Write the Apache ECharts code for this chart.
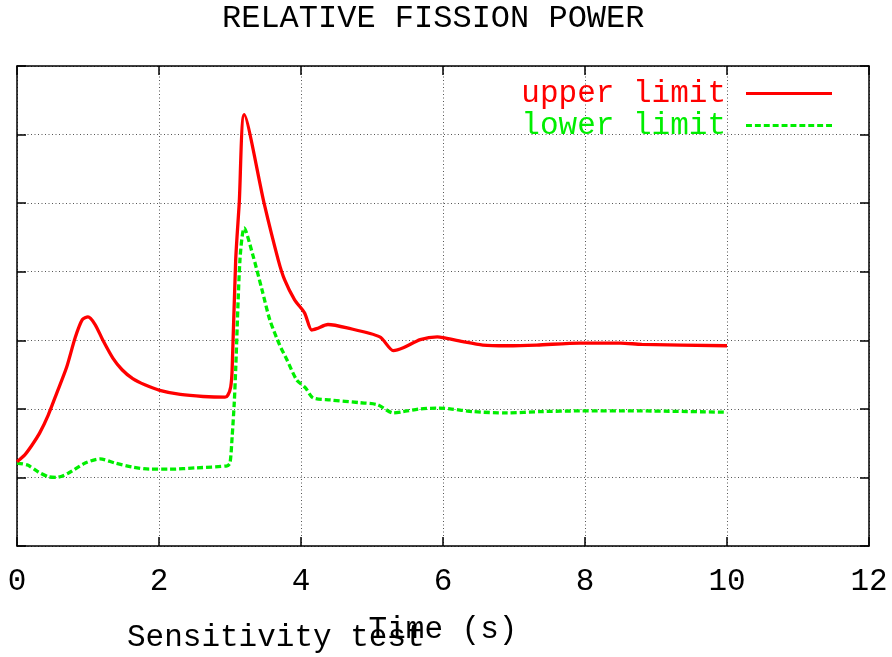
<!DOCTYPE html>
<html>
<head>
<meta charset="utf-8">
<script src="https://cdn.jsdelivr.net/npm/echarts@6/dist/echarts.min.js"></script>
<style>
html,body{margin:0;padding:0;background:#fff;}
#c{width:892px;height:657px;}
</style>
</head>
<body>
<div id="c"></div>
<script>
// ---- data ----
var upperT = [0, 0.11, 0.21, 0.32, 0.44, 0.56, 0.70, 0.82, 0.92, 1.00, 1.10, 1.21, 1.35, 1.48, 1.63, 1.80, 2.01, 2.30, 2.62, 2.93, 2.97, 3.01, 3.03, 3.08, 3.13, 3.20, 3.48, 3.68, 3.77, 3.91, 4.05, 4.15, 4.22, 4.38, 4.65, 5.11, 5.30, 5.44, 5.68, 5.92, 6.00, 6.28, 6.56, 6.90, 7.32, 7.93, 8.50, 8.80, 10.00];
var upperV = [1.23, 1.33, 1.47, 1.65, 1.91, 2.23, 2.61, 3.04, 3.30, 3.34, 3.23, 3.00, 2.74, 2.57, 2.44, 2.35, 2.27, 2.21, 2.18, 2.17, 2.20, 2.32, 2.57, 4.17, 5.00, 6.29, 5.00, 4.17, 3.88, 3.59, 3.40, 3.15, 3.17, 3.23, 3.18, 3.05, 2.85, 2.89, 3.01, 3.05, 3.04, 2.98, 2.93, 2.92, 2.93, 2.96, 2.96, 2.94, 2.92];
var lowerT = [0, 0.15, 0.30, 0.44, 0.56, 0.72, 0.96, 1.17, 1.38, 1.63, 1.87, 2.15, 2.53, 2.96, 3.00, 3.03, 3.06, 3.08, 3.14, 3.20, 3.32, 3.45, 3.56, 3.70, 3.80, 3.94, 4.06, 4.17, 4.41, 4.83, 5.08, 5.30, 5.44, 5.68, 5.92, 6.10, 6.42, 6.90, 7.37, 7.93, 8.77, 10.00];
var lowerV = [1.21, 1.18, 1.08, 1.01, 1.00, 1.06, 1.21, 1.27, 1.21, 1.15, 1.12, 1.12, 1.14, 1.17, 1.21, 1.59, 2.09, 2.57, 4.17, 4.64, 4.25, 3.74, 3.30, 2.93, 2.72, 2.42, 2.31, 2.16, 2.13, 2.09, 2.06, 1.94, 1.96, 2.00, 2.01, 2.00, 1.96, 1.94, 1.96, 1.97, 1.97, 1.95];
var xTicks = {min: 0, max: 12, step: 2};
var yTicks = {min: 0, max: 7, step: 1};
var seriesNames = ['upper limit', 'lower limit'];
var titleText = 'RELATIVE FISSION POWER';
var xName = 'Time (s)';
var noteText = 'Sensitivity test';

function pairs(t, v) { return t.map(function (x, i) { return [x, v[i]]; }); }

var FONT = '"Liberation Mono", "DejaVu Sans Mono", monospace';
var RED = '#ff0000', GREEN = '#00ee00';

// legend icons (style only)
var solidIcon = 'path://M0,0H86V3H0Z';
var dashIcon = 'path://';
for (var k = 0; k < 10; k++) { var x0 = k * 9; dashIcon += 'M' + x0 + ',0H' + (x0 + 6) + 'V3H' + x0 + 'Z'; }

var chart = echarts.init(document.getElementById('c'));
var axisLine = {show: true, onZero: false, lineStyle: {color: '#000', width: 1.5}};
var tick = {show: true, inside: true, length: 9, lineStyle: {color: '#000', width: 1.5}};
var split = {show: true, lineStyle: {color: '#555', width: 1, type: [1, 2.5]}};

chart.setOption({
  animation: false,
  backgroundColor: '#fff',
  title: [
    {text: titleText, left: 222, top: 3, padding: 0,
     textStyle: {fontFamily: FONT, fontSize: 32, fontWeight: 'normal', color: '#000'}},
    {text: noteText, left: 127, top: 622, padding: 0,
     textStyle: {fontFamily: FONT, fontSize: 31, fontWeight: 'normal', color: '#000'}}
  ],
  legend: {
    orient: 'vertical', right: 55, top: 73, align: 'right',
    itemWidth: 86, itemHeight: 3, itemGap: 1,
    data: [
      {name: seriesNames[0], icon: solidIcon, itemStyle: {color: RED}, textStyle: {color: RED}},
      {name: seriesNames[1], icon: dashIcon, itemStyle: {color: GREEN}, textStyle: {color: GREEN}}
    ],
    textStyle: {fontFamily: FONT, fontSize: 31, padding: [0, 15, 0, 0]}
  },
  grid: {left: 17, right: 23, top: 66, bottom: 111},
  xAxis: [
    {type: 'value', position: 'bottom', min: xTicks.min, max: xTicks.max, interval: xTicks.step,
     axisLine: axisLine, axisTick: tick, splitLine: split,
     axisLabel: {fontFamily: FONT, fontSize: 31, color: '#000', margin: 20},
     name: xName, nameLocation: 'middle', nameGap: 68,
     nameTextStyle: {fontFamily: FONT, fontSize: 31, color: '#000'}},
    {type: 'value', position: 'top', min: xTicks.min, max: xTicks.max, interval: xTicks.step,
     axisLine: axisLine, axisTick: tick, splitLine: {show: false}, axisLabel: {show: false}}
  ],
  yAxis: [
    {type: 'value', position: 'left', min: yTicks.min, max: yTicks.max, interval: yTicks.step,
     axisLine: axisLine, axisTick: tick, splitLine: split, axisLabel: {show: false}},
    {type: 'value', position: 'right', min: yTicks.min, max: yTicks.max, interval: yTicks.step,
     axisLine: axisLine, axisTick: tick, splitLine: {show: false}, axisLabel: {show: false}}
  ],
  series: [
    {name: seriesNames[0], type: 'line', data: pairs(upperT, upperV), symbol: 'none',
     smooth: 0.25, lineStyle: {color: RED, width: 3.3}, itemStyle: {color: RED}, z: 3},
    {name: seriesNames[1], type: 'line', data: pairs(lowerT, lowerV), symbol: 'none',
     smooth: 0.25, lineStyle: {color: GREEN, width: 3.3, type: [6, 3]}, itemStyle: {color: GREEN}, z: 2}
  ]
});
</script>
</body>
</html>
